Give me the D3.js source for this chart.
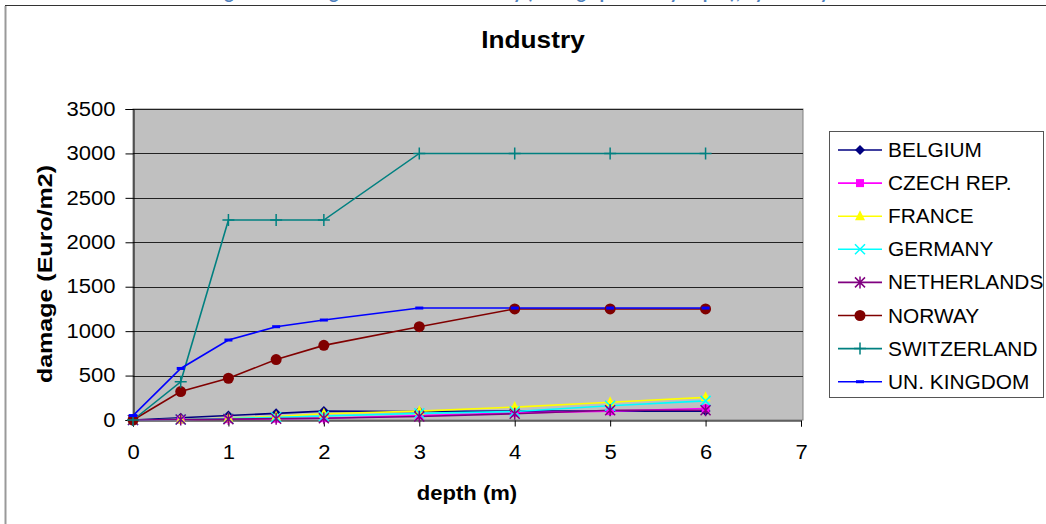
<!DOCTYPE html>
<html><head><meta charset="utf-8">
<script src="https://cdn.jsdelivr.net/npm/d3@7"></script>
<style>
html,body{margin:0;padding:0;background:#fff;}
svg{display:block;font-family:"Liberation Sans",Arial,sans-serif;}
</style></head>
<body>
<svg id="c" width="1046" height="524"></svg>
<script>
const depths = [0, 0.5, 1, 1.5, 2, 3, 4, 5, 6];
const countries = ["BELGIUM","CZECH REP.","FRANCE","GERMANY","NETHERLANDS","NORWAY","SWITZERLAND","UN. KINGDOM"];
const belgium     = [0, 25, 50, 75, 100, 95, 100, 100, 100];
const czech       = [0, 5, 10, 15, 20, 50, 80, 100, 130];
const france      = [0, 5, 20, 40, 70, 100, 145, 200, 255];
const germany     = [0, 5, 15, 30, 45, 75, 95, 160, 215];
const netherlands = [0, 5, 10, 15, 20, 40, 70, 110, 110];
const norway      = [0, 320, 470, 680, 840, 1050, 1250, 1250, 1250];
const switzerland = [0, 430, 2250, 2250, 2250, 3000, 3000, 3000, 3000];
const ukingdom    = [50, 580, 900, 1050, 1125, 1260, 1260, 1260, 1260];
const xTicks = [0,1,2,3,4,5,6,7];
const yTicks = [0,500,1000,1500,2000,2500,3000,3500];

const seriesValues = [belgium, czech, france, germany, netherlands, norway, switzerland, ukingdom];
const colors = ["#000080","#ff00ff","#ffff00","#00ffff","#800080","#800000","#008080","#0000ff"];
const markers = ["diamond","square","triangle","x","star","circle","plus","dash"];

const svg = d3.select("#c");

// partially visible heading above the chart frame
svg.append("text").attr("x", 520).attr("y", -1).attr("text-anchor","middle")
  .attr("font-family","Calibri,'Liberation Sans',Arial,sans-serif")
  .attr("font-weight","bold").attr("font-size", 19).attr("fill","#4f81bd")
  .text("Figure 3: Damage functions for Industry (damage per m2 by depth), by country");

// chart frame
svg.append("rect").attr("x",5.5).attr("y",5.5).attr("width",1060).attr("height",540)
  .attr("fill","#fff").attr("stroke","#333").attr("stroke-width",1);
svg.append("line").attr("x1",5.5).attr("x2",5.5).attr("y1",6).attr("y2",524).attr("stroke","#999").attr("stroke-width",2);

const L = 133, R = 801, T = 109, B = 420;
const x = d3.scaleLinear().domain([0,7]).range([L,R]);
const y = d3.scaleLinear().domain([0,3500]).range([B,T]);

// plot area
svg.append("rect").attr("x",L).attr("y",T).attr("width",R-L+2).attr("height",B-T)
  .attr("fill","#c0c0c0").attr("stroke","#808080").attr("stroke-width",1);

// gridlines
svg.append("g").selectAll("line").data(yTicks.filter(d=>d>0)).join("line")
  .attr("x1",L).attr("x2",R+2).attr("y1",d=>Math.round(y(d))+0.5).attr("y2",d=>Math.round(y(d))+0.5)
  .attr("stroke","#222").attr("stroke-width",1);

const SX = 1.13;
// axes
const yAxis = d3.axisLeft(y).tickValues(yTicks).tickSize(8).tickPadding(8).tickFormat(d3.format("d"));
const gy = svg.append("g").attr("transform",`translate(${L+0.5},0)`).call(yAxis);
gy.select(".domain").attr("stroke","#000");
gy.selectAll(".tick line").attr("stroke","#000");
gy.selectAll("text").attr("font-size",19.5).attr("fill","#000")
  .attr("font-family","'Liberation Sans',Arial,sans-serif").attr("transform",`scale(${SX},1)`);

const xAxis = d3.axisBottom(x).tickValues(xTicks).tickSize(6).tickPadding(19).tickFormat(d3.format("d"));
const gx = svg.append("g").attr("transform",`translate(0,${B+0.5})`).call(xAxis);
gx.select(".domain").attr("stroke","#000");
gx.selectAll(".tick line").attr("stroke","#000");
gx.selectAll("text").attr("font-size",19.5).attr("fill","#000")
  .attr("font-family","'Liberation Sans',Arial,sans-serif").attr("transform",`scale(${SX},1)`);

// titles
svg.append("text").attr("transform","translate(533,48) scale(1.14,1)").attr("text-anchor","middle")
  .attr("font-weight","bold").attr("font-size",23).text("Industry");
svg.append("text").attr("transform","translate(467,500) scale(1.13,1)").attr("text-anchor","middle")
  .attr("font-weight","bold").attr("font-size",19.5).text("depth (m)");
svg.append("text").attr("transform","translate(52,274) rotate(-90) scale(1.22,1)").attr("text-anchor","middle")
  .attr("font-weight","bold").attr("font-size",20.5).text("damage (Euro/m2)");

// marker drawing
function drawMarker(g, type, cx, cy, color, s){
  s = s || 1;
  switch(type){
    case "diamond":
      g.append("path").attr("d",`M${cx},${cy-5*s}L${cx+5*s},${cy}L${cx},${cy+5*s}L${cx-5*s},${cy}Z`).attr("fill",color); break;
    case "square":
      g.append("rect").attr("x",cx-4*s).attr("y",cy-4*s).attr("width",8*s).attr("height",8*s).attr("fill",color); break;
    case "triangle":
      g.append("path").attr("d",`M${cx},${cy-6*s}L${cx+5*s},${cy+4*s}L${cx-5*s},${cy+4*s}Z`).attr("fill",color); break;
    case "x":
      g.append("path").attr("d",`M${cx-5*s},${cy-5*s}L${cx+5*s},${cy+5*s}M${cx+5*s},${cy-5*s}L${cx-5*s},${cy+5*s}`).attr("stroke",color).attr("stroke-width",1.5); break;
    case "star":
      g.append("path").attr("d",`M${cx-5*s},${cy-5*s}L${cx+5*s},${cy+5*s}M${cx+5*s},${cy-5*s}L${cx-5*s},${cy+5*s}M${cx},${cy-6*s}L${cx},${cy+6*s}`).attr("stroke",color).attr("stroke-width",1.5); break;
    case "circle":
      g.append("circle").attr("cx",cx).attr("cy",cy).attr("r",5.5*s).attr("fill",color); break;
    case "plus":
      g.append("path").attr("d",`M${cx-6*s},${cy}L${cx+6*s},${cy}M${cx},${cy-6*s}L${cx},${cy+6*s}`).attr("stroke",color).attr("stroke-width",1.5); break;
    case "dash":
      g.append("rect").attr("x",cx-4*s).attr("y",cy-1.5*s).attr("width",8*s).attr("height",3*s).attr("fill",color); break;
  }
}

const line = d3.line().x((d,i)=>x(depths[i])).y(d=>y(d));
const plotG = svg.append("g");
seriesValues.forEach((vals,k)=>{
  plotG.append("path").datum(vals).attr("d",line).attr("fill","none")
    .attr("stroke",colors[k]).attr("stroke-width",1.6);
});
seriesValues.forEach((vals,k)=>{
  const mg = plotG.append("g");
  vals.forEach((v,i)=> drawMarker(mg, markers[k], x(depths[i]), y(v), colors[k]));
});

// legend
const lg = svg.append("g");
lg.append("rect").attr("x",829.5).attr("y",131.5).attr("width",214).attr("height",266)
  .attr("fill","#fff").attr("stroke","#555").attr("stroke-width",1);
countries.forEach((c,k)=>{
  const yy = 150 + k*33.1;
  lg.append("line").attr("x1",838).attr("x2",882).attr("y1",yy).attr("y2",yy)
    .attr("stroke",colors[k]).attr("stroke-width",1.6);
  drawMarker(lg, markers[k], 860, yy, colors[k]);
  lg.append("text").attr("transform",`translate(888,${yy+7}) scale(1.07,1)`)
    .attr("font-size",19.5).attr("fill","#000").text(c);
});
</script>
</body></html>
